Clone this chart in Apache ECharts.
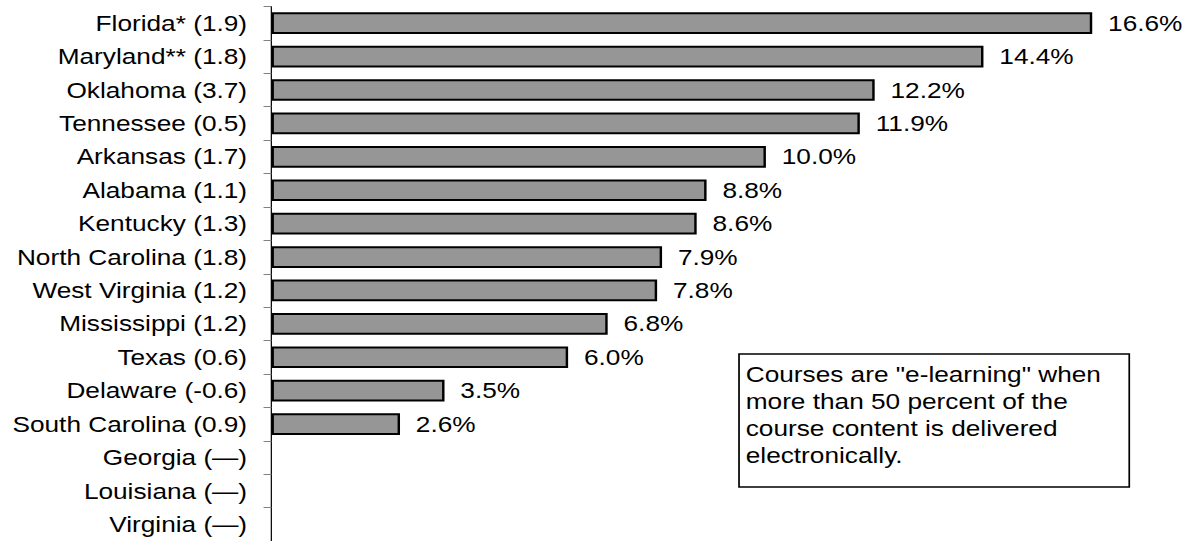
<!DOCTYPE html>
<html>
<head>
<meta charset="utf-8">
<script src="https://cdn.jsdelivr.net/npm/echarts@6/dist/echarts.min.js"></script>
<style>
html,body{margin:0;padding:0;background:#fff;overflow:hidden;}
#wrap{width:1189px;height:541px;overflow:hidden;}
#c{width:975px;height:541px;transform:scaleX(1.2195);transform-origin:0 0;}
</style>
</head>
<body>
<div id="wrap"><div id="c"></div></div>
<script>
const states = ["Florida* (1.9)","Maryland** (1.8)","Oklahoma (3.7)","Tennessee (0.5)","Arkansas (1.7)","Alabama (1.1)","Kentucky (1.3)","North Carolina (1.8)","West Virginia (1.2)","Mississippi (1.2)","Texas (0.6)","Delaware (-0.6)","South Carolina (0.9)","Georgia (—)","Louisiana (—)","Virginia (—)"];
const shares = [16.6,14.4,12.2,11.9,10.0,8.8,8.6,7.9,7.8,6.8,6.0,3.5,2.6,null,null,null];
const noteLines = ['Courses are "e-learning" when','more than 50 percent of the','course content is delivered','electronically.'];

// The reference glyphs are stretched horizontally; the chart is laid out in a
// 975px-wide box and stretched to 1189px (factor 1.2195).
const chart = echarts.init(document.getElementById('c'), null, {renderer:'svg'});
const font = 'Liberation Sans, Arial, sans-serif';
chart.setOption({
  animation:false,
  grid:{left:222.6,right:22.6,top:6.5,bottom:-3,containLabel:false},
  xAxis:{type:'value',min:0,max:18,show:false},
  yAxis:{type:'category',data:states,inverse:true,
    axisLine:{lineStyle:{color:'#000',width:1}},
    axisTick:{show:true,length:6.5,lineStyle:{color:'#808080'}},
    axisLabel:{fontFamily:font,fontSize:21.5,color:'#000',margin:20}},
  series:[{type:'bar',data:shares,barCategoryGap:'35%',
    itemStyle:{color:'#969696',borderColor:'#000',borderWidth:2},
    label:{show:true,position:'right',distance:13,fontFamily:font,fontSize:21.5,color:'#000',
      formatter:p=>p.value==null?'':p.value.toFixed(1)+'%'}}],
  graphic:[
    {type:'rect',shape:{x:606,y:354,width:320,height:133},style:{fill:'#fff',stroke:'#000',lineWidth:1.4}},
    {type:'text',x:611.5,y:361,style:{text:noteLines.join('\n'),font:'21.5px '+font,fill:'#000',lineHeight:27}}
  ]
});
</script>
</body>
</html>
